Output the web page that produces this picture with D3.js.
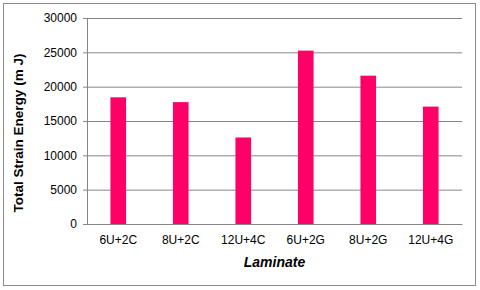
<!DOCTYPE html>
<html>
<head>
<meta charset="utf-8">
<script src="https://cdn.jsdelivr.net/npm/d3@7"></script>
<style>
  body { margin: 0; background: #fff; }
  text { font-family: "Liberation Sans", Arial, sans-serif; }
</style>
</head>
<body>
<div id="chart"></div>
<script>
var laminates = ["6U+2C", "8U+2C", "12U+4C", "6U+2G", "8U+2G", "12U+4G"];
var energy = [18450, 17750, 12600, 25250, 21600, 17100];
var yTicks = [0, 5000, 10000, 15000, 20000, 25000, 30000];

var width = 480, height = 290;
var margin = { top: 18, right: 18, bottom: 66, left: 87 };
var plotW = width - margin.left - margin.right;
var plotH = height - margin.top - margin.bottom;

var data = laminates.map(function(d, i) {
    return { laminate: d, value: energy[i] };
});

var svg = d3.select("#chart").append("svg")
    .attr("width", width)
    .attr("height", height);

// outer frame
svg.append("rect")
    .attr("x", 3.5).attr("y", 3.5)
    .attr("width", 472).attr("height", 282)
    .attr("fill", "#fff")
    .attr("stroke", "#8c8c8c")
    .attr("stroke-width", 1);

var g = svg.append("g")
    .attr("transform", "translate(" + margin.left + "," + margin.top + ")");

var x = d3.scaleBand()
    .domain(laminates)
    .range([0, plotW])
    .paddingInner(0.75)
    .paddingOuter(0.375);

var y = d3.scaleLinear()
    .domain([0, 30000])
    .range([plotH, 0]);

// gridlines + y axis
var yAxis = d3.axisLeft(y)
    .tickValues(yTicks)
    .tickSize(-plotW)
    .tickPadding(10)
    .tickFormat(d3.format("d"));

g.append("g")
    .attr("class", "yAxis")
    .call(yAxis)
    .call(function(s) {
        s.select(".domain").remove();
        s.selectAll(".tick line")
            .attr("stroke", "#868686")
            .attr("x1", -4);
        s.selectAll(".tick text")
            .attr("fill", "#000")
            .style("font-size", "12px");
    });

g.append("line")
    .attr("x1", 0.5).attr("x2", 0.5)
    .attr("y1", 0).attr("y2", plotH)
    .attr("stroke", "#868686");

// bars
g.selectAll(".bar")
    .data(data)
    .enter().append("rect")
    .attr("class", "bar")
    .attr("x", function(d) { return x(d.laminate); })
    .attr("width", x.bandwidth())
    .attr("y", function(d) { return y(d.value); })
    .attr("height", function(d) { return plotH - y(d.value); })
    .attr("fill", "#ff0066");

// x axis
var xAxis = d3.axisBottom(x).tickSize(0).tickPadding(11);
g.append("g")
    .attr("class", "xAxis")
    .attr("transform", "translate(0," + plotH + ")")
    .call(xAxis)
    .call(function(s) {
        s.select(".domain").attr("stroke", "#868686");
        s.selectAll(".tick text")
            .attr("fill", "#000")
            .style("font-size", "12px");
    });

// axis titles
svg.append("text")
    .attr("x", margin.left + plotW / 2)
    .attr("y", 267)
    .attr("text-anchor", "middle")
    .style("font-size", "14px")
    .style("font-weight", "bold")
    .style("font-style", "italic")
    .text("Laminate");

svg.append("text")
    .attr("transform", "translate(23,133) rotate(-90)")
    .attr("text-anchor", "middle")
    .style("font-size", "13.5px")
    .style("font-weight", "bold")
    .text("Total Strain Energy (m J)");
</script>
</body>
</html>
